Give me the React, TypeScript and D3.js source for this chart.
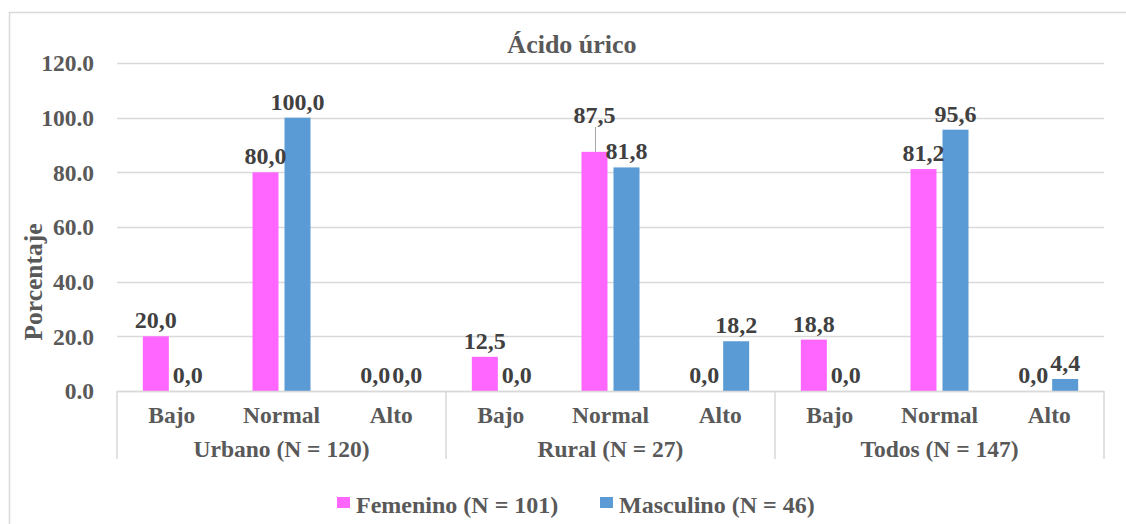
import React from "react";
import * as d3 from "d3";

// Groups, levels and series shown in the chart
const groups = ["Urbano (N = 120)", "Rural (N = 27)", "Todos (N = 147)"];
const levels = ["Bajo", "Normal", "Alto"];
const seriesNames = ["Femenino (N = 101)", "Masculino (N = 46)"];
const seriesColors = ["#FF66FF", "#5B9BD5"];

// Percentages per group, in level order (Bajo, Normal, Alto)
const femenino = [
  [20.0, 80.0, 0.0],
  [12.5, 87.5, 0.0],
  [18.8, 81.2, 0.0],
];
const masculino = [
  [0.0, 100.0, 0.0],
  [0.0, 81.8, 18.2],
  [0.0, 95.6, 4.4],
];

const yTicks = [0, 20, 40, 60, 80, 100, 120];

const W = 1126;
const H = 524;
const FONT = "'Liberation Serif', 'Times New Roman', serif";
const TEXT = "#595959";
const LABEL = "#404040";
const GRID = "#D9D9D9";

const fmtComma = (v: number) => v.toFixed(1).replace(".", ",");

export default function App() {
  const left = 117;
  const right = 1104;
  const top = 63;
  const bottom = 391;

  const y = d3.scaleLinear().domain([0, 120]).range([bottom, top]);
  const groupX = d3.scaleBand<string>().domain(groups).range([left, right]).padding(0);
  const levelX = d3.scaleBand<string>().domain(levels).range([0, groupX.bandwidth()]).padding(0);

  const values = [femenino, masculino];

  type Bar = {
    key: string;
    x: number;
    w: number;
    v: number;
    color: string;
    s: number;
    g: number;
    l: number;
  };
  const bars: Bar[] = [];
  groups.forEach((g, gi) => {
    levels.forEach((l, li) => {
      const c = (groupX(g) ?? 0) + (levelX(l) ?? 0) + levelX.bandwidth() / 2;
      const inner = d3
        .scaleBand<string>()
        .domain(seriesNames)
        .range([c - 29, c + 29])
        .paddingInner(0.1875);
      seriesNames.forEach((s, si) => {
        bars.push({
          key: `${g}-${l}-${s}`,
          x: inner(s) ?? 0,
          w: inner.bandwidth(),
          v: values[si][gi][li],
          color: seriesColors[si],
          s: si,
          g: gi,
          l: li,
        });
      });
    });
  });

  // Label lifted above its neighbour, joined to its bar by a leader line
  const lifted = (b: Bar) => b.s === 0 && b.g === 1 && b.l === 1;

  return (
    <svg
      width={W}
      height={H}
      style={{ position: "absolute", left: 0, top: 0, background: "#fff" }}
      fontFamily={FONT}
    >
      {/* chart frame */}
      <rect x={9.5} y={12.5} width={W + 20} height={H + 20} fill="#fff" stroke={GRID} strokeWidth={1.5} />

      <text x={572} y={53} textAnchor="middle" fontSize={26} fontWeight="bold" fill={TEXT}>
        Ácido úrico
      </text>

      {/* grid lines */}
      {yTicks.map((t) => (
        <line
          key={t}
          x1={left}
          x2={right}
          y1={Math.round(y(t)) + 0.5}
          y2={Math.round(y(t)) + 0.5}
          stroke={GRID}
          strokeWidth={1.5}
        />
      ))}

      {/* y tick labels */}
      {yTicks.map((t) => (
        <text
          key={`t${t}`}
          x={94}
          y={y(t)}
          dy="0.35em"
          textAnchor="end"
          fontSize={23.5}
          fontWeight="bold"
          fill={TEXT}
        >
          {t.toFixed(1)}
        </text>
      ))}

      <text
        transform={`translate(42,282) rotate(-90)`}
        textAnchor="middle"
        fontSize={25.5}
        fontWeight="bold"
        fill={TEXT}
      >
        Porcentaje
      </text>

      {/* group separators */}
      {[...groups.map((g) => groupX(g) ?? 0), right].map((x, i) => (
        <line key={`sep${i}`} x1={x} x2={x} y1={bottom} y2={459} stroke={GRID} strokeWidth={1.5} />
      ))}

      {/* bars */}
      {bars.map((b) => (
        <rect key={b.key} x={b.x} y={y(b.v)} width={b.w} height={bottom - y(b.v)} fill={b.color} />
      ))}

      {/* value labels */}
      {bars.map((b) => {
        const cx = b.x + b.w / 2;
        const base = y(b.v) - 8;
        if (lifted(b)) {
          return (
            <g key={`lab${b.key}`}>
              <line x1={cx + 1} x2={cx + 1} y1={y(b.v)} y2={127} stroke="#A6A6A6" strokeWidth={1} />
              <text x={cx} y={123} textAnchor="middle" fontSize={24} fontWeight="bold" fill={LABEL}>
                {fmtComma(b.v)}
              </text>
            </g>
          );
        }
        return (
          <text key={`lab${b.key}`} x={cx} y={base} textAnchor="middle" fontSize={24} fontWeight="bold" fill={LABEL}>
            {fmtComma(b.v)}
          </text>
        );
      })}

      {/* baseline */}
      <line x1={left} x2={right} y1={bottom + 0.5} y2={bottom + 0.5} stroke={GRID} strokeWidth={1.5} />

      {/* level labels */}
      {groups.map((g) =>
        levels.map((l) => (
          <text
            key={`${g}${l}`}
            x={(groupX(g) ?? 0) + (levelX(l) ?? 0) + levelX.bandwidth() / 2}
            y={423}
            textAnchor="middle"
            fontSize={23.5}
            fontWeight="bold"
            fill={TEXT}
          >
            {l}
          </text>
        ))
      )}

      {/* group labels */}
      {groups.map((g) => (
        <text
          key={`g${g}`}
          x={(groupX(g) ?? 0) + groupX.bandwidth() / 2}
          y={457}
          textAnchor="middle"
          fontSize={23.5}
          fontWeight="bold"
          fill={TEXT}
        >
          {g}
        </text>
      ))}

      {/* legend */}
      {seriesNames.map((s, i) => {
        const lx = i === 0 ? 337 : 600;
        return (
          <g key={`leg${s}`}>
            <rect x={lx} y={497} width={13} height={11} fill={seriesColors[i]} />
            <text x={lx + 19} y={513} fontSize={24} fontWeight="bold" fill={TEXT}>
              {s}
            </text>
          </g>
        );
      })}
    </svg>
  );
}
